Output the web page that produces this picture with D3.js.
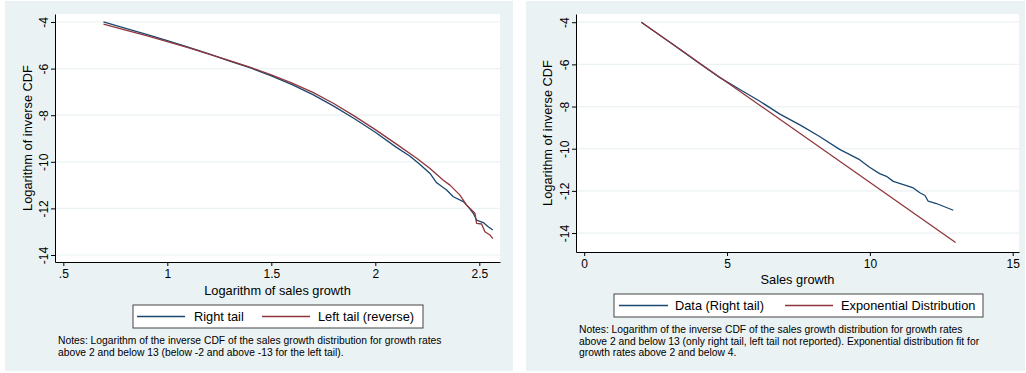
<!DOCTYPE html>
<html><head><meta charset="utf-8">
<script src="https://cdn.jsdelivr.net/npm/d3@7"></script>
<style>
body{margin:0;background:#fff;}
text{font-family:"Liberation Sans",Arial,sans-serif;fill:#000;}
</style>
</head><body>
<svg id="c" width="1026" height="373"></svg>
<script>
// ---------- DATA ----------
// Left panel: log of sales growth vs log inverse CDF
const leftRightTailX = [0.693,0.80,0.90,1.00,1.10,1.20,1.30,1.40,1.50,1.60,1.70,1.80,1.90,2.00,2.10,2.167,2.215,2.263,2.295,2.343,2.375,2.423,2.447,2.471,2.487,2.519,2.543,2.565];
const leftRightTailY = [-4.00,-4.27,-4.53,-4.80,-5.08,-5.37,-5.675,-5.97,-6.31,-6.69,-7.12,-7.61,-8.15,-8.73,-9.37,-9.76,-10.12,-10.50,-10.90,-11.21,-11.50,-11.71,-11.93,-12.21,-12.50,-12.61,-12.79,-12.93];
const leftLeftTailX = [0.693,0.80,0.90,1.00,1.10,1.20,1.30,1.40,1.50,1.60,1.70,1.80,1.90,2.00,2.10,2.199,2.263,2.327,2.359,2.407,2.439,2.479,2.487,2.511,2.527,2.551,2.565];
const leftLeftTailY = [-4.09,-4.345,-4.59,-4.845,-5.105,-5.375,-5.655,-5.95,-6.27,-6.62,-7.02,-7.50,-8.04,-8.62,-9.23,-9.85,-10.29,-10.79,-11.00,-11.43,-11.86,-12.21,-12.64,-12.67,-13.00,-13.14,-13.30];
const leftXTicks = [0.5,1,1.5,2,2.5];
const leftXTickLabels = [".5","1","1.5","2","2.5"];
const yTicks = [-4,-6,-8,-10,-12,-14];
const yTickLabels = ["-4","-6","-8","-10","-12","-14"];

// Right panel: sales growth vs log inverse CDF
const rightDataX = [2.0,2.5,3.0,3.5,4.05,4.75,5.45,6.15,6.85,7.55,8.24,8.94,9.64,9.99,10.34,10.58,10.82,11.28,11.52,11.75,11.93,12.04,12.33,12.57,12.92];
const rightDataY = [-4.00,-4.48,-4.95,-5.43,-5.97,-6.63,-7.19,-7.75,-8.36,-8.87,-9.42,-10.03,-10.52,-10.88,-11.18,-11.31,-11.55,-11.75,-11.86,-12.09,-12.22,-12.49,-12.60,-12.73,-12.92];
const rightExpX = [2, 13];
const rightExpY = [-4.0, -14.45];
const rightXTicks = [0,5,10,15];
const rightXTickLabels = ["0","5","10","15"];

const leftLegend = ["Right tail","Left tail (reverse)"];
const rightLegend = ["Data (Right tail)","Exponential Distribution"];
const leftNotes = ["Notes: Logarithm of the inverse CDF of the sales growth distribution for growth rates",
                   "above 2 and below 13 (below -2 and above -13 for the left tail)."];
const rightNotes = ["Notes: Logarithm of the inverse CDF of the sales growth distribution for growth rates",
                    "above 2 and below 13 (only right tail, left tail not reported). Exponential distribution fit for",
                    "growth rates above 2 and below 4."];

// ---------- STYLE ----------
const BG = "#eaf2f3", NAVY = "#1a476f", MAROON = "#90353b";
const svg = d3.select("#c");

function panel(o){
  const g = svg.append("g");
  g.append("rect").attr("x",o.bx).attr("y",o.by).attr("width",o.bw).attr("height",o.bh).attr("fill",BG);
  g.append("rect").attr("x",o.px0).attr("y",o.py0).attr("width",o.px1-o.px0).attr("height",o.py1-o.py0).attr("fill","#fff");
  const x = d3.scaleLinear().domain(o.xdom).range([o.px0,o.px1]);
  const y = d3.scaleLinear().domain(o.ydom).range([o.py1,o.py0]);
  // grid
  g.selectAll("line.grid").data(yTicks).enter().append("line")
    .attr("x1",o.px0).attr("x2",o.px1).attr("y1",d=>y(d)).attr("y2",d=>y(d))
    .attr("stroke",BG).attr("stroke-width",1.2);
  // x axis
  const xa = g.append("g").attr("transform",`translate(0,${o.py1})`)
    .call(d3.axisBottom(x).tickValues(o.xticks).tickFormat((d,i)=>o.xlabels[i]).tickSize(4).tickSizeOuter(0).tickPadding(3));
  xa.select(".domain").attr("stroke","#000");
  xa.selectAll(".tick line").attr("stroke","#000");
  xa.selectAll("text").attr("font-size","12px").attr("font-family","Liberation Sans, Arial, sans-serif");
  // y axis
  const ya = g.append("g").attr("transform",`translate(${o.px0},0)`)
    .call(d3.axisLeft(y).tickValues(yTicks).tickFormat((d,i)=>yTickLabels[i]).tickSize(4).tickSizeOuter(0));
  ya.select(".domain").attr("stroke","#000");
  ya.selectAll(".tick line").attr("stroke","#000");
  ya.selectAll("text").attr("font-size","12px").attr("font-family","Liberation Sans, Arial, sans-serif")
    .attr("x",null).attr("dy",null).attr("text-anchor","middle")
    .attr("transform",`translate(${-o.ylabOff},0) rotate(-90)`).attr("dominant-baseline","central");
  // titles
  g.append("text").attr("x",(o.px0+o.px1)/2).attr("y",o.xtitleY).attr("text-anchor","middle")
    .attr("font-size","12.8px").text(o.xtitle);
  g.append("text").attr("transform",`translate(${o.ytitleX},${(o.py0+o.py1)/2}) rotate(-90)`)
    .attr("text-anchor","middle").attr("font-size","12.8px").text("Logarithm of inverse CDF");
  // lines
  const line = d3.line().x(d=>x(d[0])).y(d=>y(d[1]));
  o.series.forEach(s=>{
    g.append("path").datum(d3.zip(s.x,s.y)).attr("d",line).attr("fill","none")
      .attr("stroke",s.color).attr("stroke-width",1.3).attr("stroke-linejoin","round");
  });
  // legend
  const L = o.legend;
  g.append("rect").attr("x",L.x).attr("y",L.y).attr("width",L.w).attr("height",L.h)
    .attr("fill","#fff").attr("stroke","#444").attr("stroke-width",1);
  L.items.forEach((it,i)=>{
    const cy = L.y + L.h/2;
    g.append("line").attr("x1",it.lx0).attr("x2",it.lx1).attr("y1",cy).attr("y2",cy)
      .attr("stroke",o.series[i].color).attr("stroke-width",1.3);
    g.append("text").attr("x",it.tx).attr("y",cy).attr("dominant-baseline","central")
      .attr("font-size","12.8px").text(it.label);
  });
  // notes
  o.notes.forEach((t,i)=>{
    g.append("text").attr("x",o.notesX).attr("y",o.notesY + i*11.6).attr("font-size","10.3px").text(t);
  });
}

panel({
  bx:5,by:1,bw:508,bh:370,
  px0:55,px1:500,py0:14,py1:262,
  xdom:[0.460,2.5995], ydom:[-14.30,-3.657],
  xticks:leftXTicks, xlabels:leftXTickLabels, ylabOff:11,
  xtitle:"Logarithm of sales growth", xtitleY:295, ytitleX:32,
  series:[{x:leftRightTailX,y:leftRightTailY,color:NAVY},{x:leftLeftTailX,y:leftLeftTailY,color:MAROON}],
  legend:{x:133,y:305,w:290,h:23,items:[
    {lx0:137,lx1:185,tx:194,label:leftLegend[0]},
    {lx0:262,lx1:310,tx:318,label:leftLegend[1]}]},
  notes:leftNotes, notesX:58, notesY:344
});

panel({
  bx:526,by:1,bw:499,bh:370,
  px0:576,px1:1019,py0:14,py1:252,
  xdom:[-0.287,15.22], ydom:[-14.90,-3.61],
  xticks:rightXTicks, xlabels:rightXTickLabels, ylabOff:11,
  xtitle:"Sales growth", xtitleY:284, ytitleX:552,
  series:[{x:rightDataX,y:rightDataY,color:NAVY},{x:rightExpX,y:rightExpY,color:MAROON}],
  legend:{x:614,y:294,w:369,h:23,items:[
    {lx0:619,lx1:668,tx:675,label:rightLegend[0]},
    {lx0:785,lx1:833,tx:841,label:rightLegend[1]}]},
  notes:rightNotes, notesX:579, notesY:333
});
</script>
</body></html>
